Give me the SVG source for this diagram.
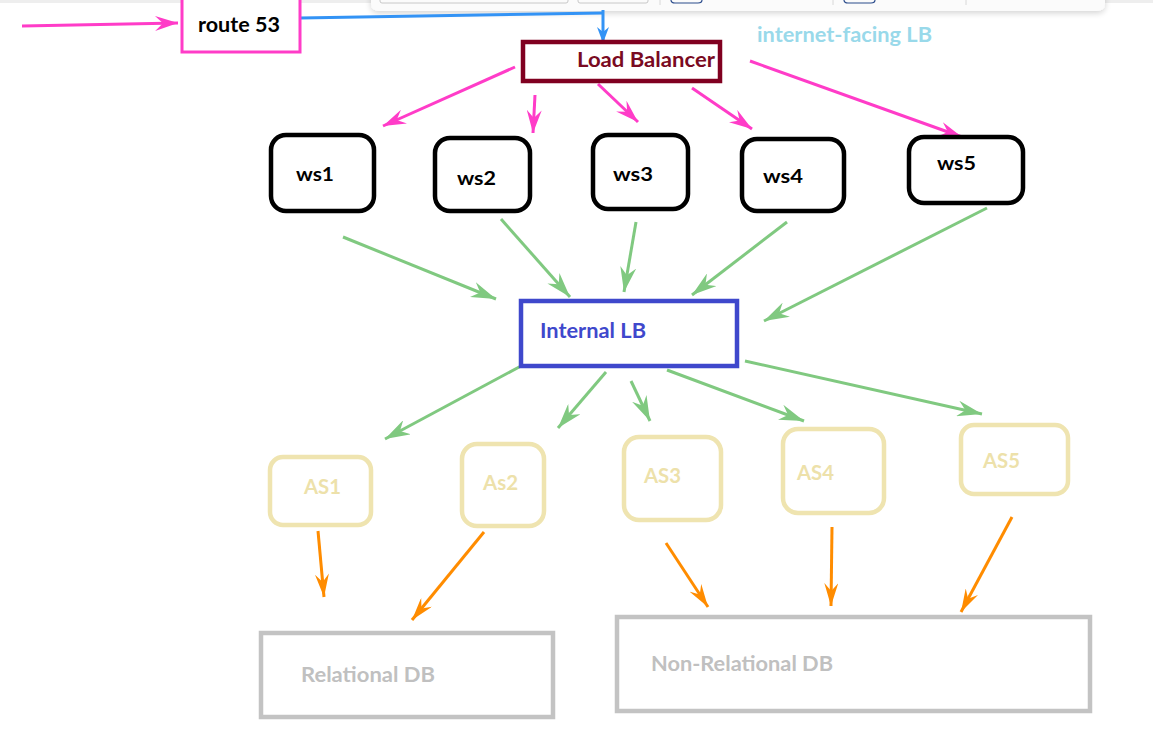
<svg xmlns="http://www.w3.org/2000/svg" width="1153" height="741" viewBox="0 0 1153 741">
  <defs>
    <style>
      text { font-family: Lato, "Liberation Sans", sans-serif; font-weight: bold; }
      .pk { stroke: #FF3CC8; stroke-width: 3; fill: none; marker-end: url(#ahPink); }
      .gr { stroke: #80C980; stroke-width: 3; fill: none; marker-end: url(#ahGreen); }
      .or { stroke: #FF8C00; stroke-width: 3; fill: none; marker-end: url(#ahOrange); }
      .bl { stroke: #3393F5; stroke-width: 3; fill: none; }
      .ws rect { fill: #fff; stroke: #000; stroke-width: 4.5; }
      .ws text { font-size: 19px; fill: #000; }
      .as rect { fill: #fff; stroke: #EFE4B0; stroke-width: 4.5; }
      .as text { font-size: 20px; fill: #EDE1AA; }
      .db rect { fill: #fff; stroke: #C3C3C3; stroke-width: 4.5; }
      .db text { font-size: 20px; fill: #C0C0C0; }
    </style>
    <marker id="ahPink" viewBox="0 0 23 15" refX="23" refY="7.5" markerWidth="23" markerHeight="15" markerUnits="userSpaceOnUse" orient="auto">
      <path d="M0,0 L23,7.5 L0,15 L8,7.5 z" fill="#FF3CC8"/>
    </marker>
    <marker id="ahPinkBig" viewBox="0 0 26 18" refX="26" refY="9" markerWidth="26" markerHeight="18" markerUnits="userSpaceOnUse" orient="auto">
      <path d="M0,0 L26,9 L0,18 L9,9 z" fill="#FF3CC8"/>
    </marker>
    <marker id="ahGreen" viewBox="0 0 25 16" refX="25" refY="8" markerWidth="25" markerHeight="16" markerUnits="userSpaceOnUse" orient="auto">
      <path d="M0,0 L25,8 L0,16 L8,8 z" fill="#80C980"/>
    </marker>
    <marker id="ahOrange" viewBox="0 0 23 14" refX="23" refY="7" markerWidth="23" markerHeight="14" markerUnits="userSpaceOnUse" orient="auto">
      <path d="M0,0 L23,7 L0,14 L8,7 z" fill="#FF8C00"/>
    </marker>
    <marker id="ahBlue" viewBox="0 0 16 12" refX="16" refY="6" markerWidth="16" markerHeight="12" markerUnits="userSpaceOnUse" orient="auto">
      <path d="M0,0 L16,6 L0,12 L5,6 z" fill="#3393F5"/>
    </marker>
    <filter id="shadow" x="-5%" y="-100%" width="110%" height="300%">
      <feGaussianBlur in="SourceAlpha" stdDeviation="3"/>
      <feOffset dy="2"/>
      <feComponentTransfer><feFuncA type="linear" slope="0.18"/></feComponentTransfer>
      <feMerge><feMergeNode/><feMergeNode in="SourceGraphic"/></feMerge>
    </filter>
  </defs>

  <rect x="0" y="0" width="1153" height="741" fill="#fff"/>
  <rect x="0" y="0" width="1153" height="3" fill="#EEEEEE"/>

  <!-- top floating toolbar (screenshot artifact) -->
  <g id="toolbar">
    <path d="M371,-10 H1105 V3 Q1105,11 1097,11 H379 Q371,11 371,3 Z" fill="#FBFBFB" filter="url(#shadow)"/>
    <path d="M380,-5 V1 Q380,3 382,3 H566 Q568,3 568,1 V-5" fill="none" stroke="#C8C8C8" stroke-width="1"/>
    <path d="M578,-5 V1 Q578,3 580,3 H646 Q648,3 648,1 V-5" fill="none" stroke="#C8C8C8" stroke-width="1"/>
    <line x1="660" y1="0" x2="660" y2="5" stroke="#D8D8D8" stroke-width="1"/>
    <path d="M671,-5 V0 Q671,3 675,3 H698 Q702,3 702,0 V-5" fill="none" stroke="#2B4C8C" stroke-width="1.2"/>
    <line x1="833" y1="0" x2="833" y2="5" stroke="#D8D8D8" stroke-width="1"/>
    <path d="M844,-5 V0 Q844,3 848,3 H871 Q875,3 875,0 V-5" fill="none" stroke="#2B4C8C" stroke-width="1.2"/>
    <line x1="966" y1="0" x2="966" y2="5" stroke="#D8D8D8" stroke-width="1"/>
  </g>

  <g id="connectors">
    <line class="pk" x1="22" y1="26" x2="178" y2="23" marker-end="url(#ahPinkBig)"/>
    <polyline class="bl" points="300,18 603,13"/>
    <line class="bl" x1="603" y1="10" x2="603" y2="43" marker-end="url(#ahBlue)"/>
    <line class="pk" x1="515" y1="67" x2="383" y2="126"/>
    <line class="pk" x1="535" y1="95" x2="533" y2="133"/>
    <line class="pk" x1="598" y1="84" x2="638" y2="122"/>
    <line class="pk" x1="692" y1="88" x2="752" y2="129"/>
    <line class="pk" x1="750" y1="61" x2="962" y2="137"/>

    <line class="gr" x1="343" y1="237" x2="496" y2="299"/>
    <line class="gr" x1="501" y1="219" x2="570" y2="297"/>
    <line class="gr" x1="636" y1="222" x2="624" y2="292"/>
    <line class="gr" x1="787" y1="222" x2="692" y2="295"/>
    <line class="gr" x1="987" y1="208" x2="764" y2="321"/>

    <line class="gr" x1="521" y1="366" x2="385" y2="439"/>
    <line class="gr" x1="606" y1="372" x2="558" y2="428"/>
    <line class="gr" x1="631" y1="381" x2="650" y2="421"/>
    <line class="gr" x1="667" y1="370" x2="804" y2="421"/>
    <line class="gr" x1="745" y1="361" x2="982" y2="414"/>

    <line class="or" x1="318" y1="531" x2="324" y2="597"/>
    <line class="or" x1="484" y1="532" x2="412" y2="620"/>
    <line class="or" x1="666" y1="543" x2="708" y2="607"/>
    <line class="or" x1="832" y1="527" x2="831" y2="606"/>
    <line class="or" x1="1012" y1="517" x2="961" y2="612"/>
  </g>

  <g id="route53">
    <rect x="182" y="-2" width="118" height="54" fill="#fff" stroke="#FF3CC8" stroke-width="3"/>
    <text x="198" y="32" font-size="20" fill="#000" textLength="82" lengthAdjust="spacingAndGlyphs">route 53</text>
  </g>

  <g id="loadBalancer">
    <rect x="523" y="42" width="197" height="39" fill="#fff" stroke="#800020" stroke-width="4.5"/>
    <text x="577" y="67" font-size="20" fill="#7A0A22" textLength="138" lengthAdjust="spacingAndGlyphs">Load Balancer</text>
  </g>

  <g id="internetFacingLabel">
    <text x="757" y="42" font-size="20" fill="#99D9EA" textLength="175" lengthAdjust="spacingAndGlyphs">internet-facing LB</text>
  </g>

  <g id="ws1" class="ws">
    <rect x="271" y="135" width="103" height="76" rx="15"/>
    <text x="296" y="181" textLength="38" lengthAdjust="spacingAndGlyphs">ws1</text>
  </g>
  <g id="ws2" class="ws">
    <rect x="435" y="138" width="95" height="73" rx="15"/>
    <text x="457" y="185" textLength="39" lengthAdjust="spacingAndGlyphs">ws2</text>
  </g>
  <g id="ws3" class="ws">
    <rect x="593" y="135" width="95" height="74" rx="15"/>
    <text x="613" y="181" textLength="40" lengthAdjust="spacingAndGlyphs">ws3</text>
  </g>
  <g id="ws4" class="ws">
    <rect x="742" y="139" width="102" height="72" rx="15"/>
    <text x="763" y="183" textLength="40" lengthAdjust="spacingAndGlyphs">ws4</text>
  </g>
  <g id="ws5" class="ws">
    <rect x="909" y="137" width="114" height="66" rx="15"/>
    <text x="937" y="170" textLength="39" lengthAdjust="spacingAndGlyphs">ws5</text>
  </g>

  <g id="internalLB">
    <rect x="521" y="301" width="216" height="65" fill="#fff" stroke="#3F48CC" stroke-width="4.5"/>
    <text x="540" y="338" font-size="21" fill="#3F48CC" textLength="106" lengthAdjust="spacingAndGlyphs">Internal LB</text>
  </g>

  <g id="as1" class="as">
    <rect x="270" y="457" width="101" height="68" rx="13"/>
    <text x="304" y="494" textLength="37" lengthAdjust="spacingAndGlyphs">AS1</text>
  </g>
  <g id="as2" class="as">
    <rect x="462" y="444" width="82" height="82" rx="15"/>
    <text x="483" y="490" textLength="35" lengthAdjust="spacingAndGlyphs">As2</text>
  </g>
  <g id="as3" class="as">
    <rect x="624" y="437" width="97" height="83" rx="15"/>
    <text x="644" y="483" textLength="37" lengthAdjust="spacingAndGlyphs">AS3</text>
  </g>
  <g id="as4" class="as">
    <rect x="783" y="429" width="101" height="84" rx="15"/>
    <text x="797" y="480" textLength="37" lengthAdjust="spacingAndGlyphs">AS4</text>
  </g>
  <g id="as5" class="as">
    <rect x="961" y="425" width="107" height="69" rx="13"/>
    <text x="983" y="468" textLength="37" lengthAdjust="spacingAndGlyphs">AS5</text>
  </g>

  <g id="relationalDB" class="db">
    <rect x="261" y="633" width="292" height="84"/>
    <text x="301" y="682" textLength="134" lengthAdjust="spacingAndGlyphs">Relational DB</text>
  </g>
  <g id="nonRelationalDB" class="db">
    <rect x="617" y="617" width="473" height="94"/>
    <text x="651" y="671" textLength="182" lengthAdjust="spacingAndGlyphs">Non-Relational DB</text>
  </g>
</svg>
